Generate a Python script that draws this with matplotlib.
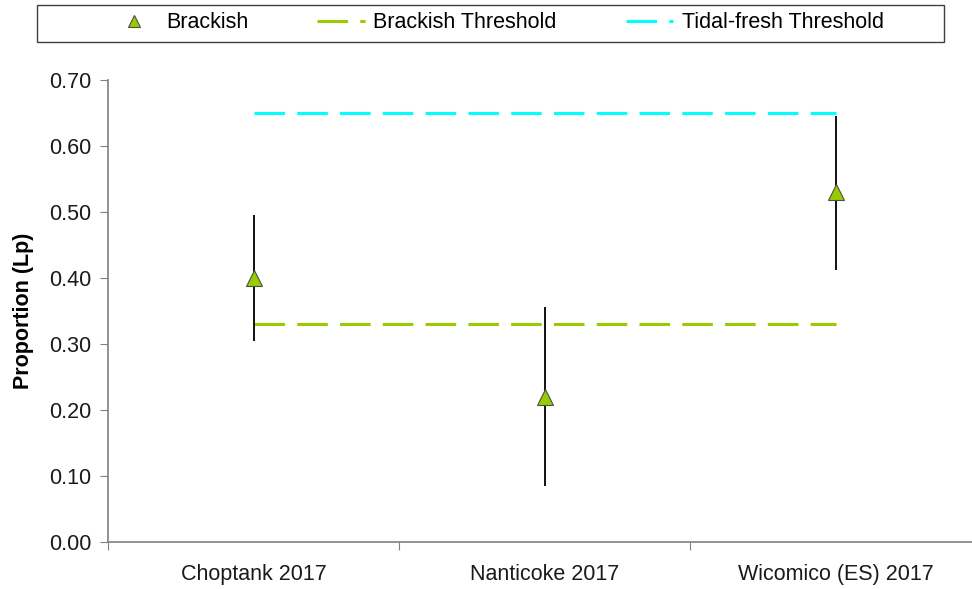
import numpy as np
import matplotlib
matplotlib.use("Agg")
import matplotlib.pyplot as plt
from matplotlib.lines import Line2D
from matplotlib.patches import Rectangle

plt.rcParams['font.family'] = ['Liberation Sans', 'DejaVu Sans']

# data
sites = ['Choptank 2017', 'Nanticoke 2017', 'Wicomico (ES) 2017']
brackish = [0.40, 0.22, 0.53]
err_low = [0.305, 0.085, 0.412]
err_high = [0.495, 0.356, 0.645]
brackish_thr = [0.33, 0.33, 0.33]
tidal_thr = [0.65, 0.65, 0.65]

green = '#99CC00'
cyan = '#00FFFF'
grey = '#808080'
fs = 15.5

fig = plt.figure(figsize=(9.72, 5.89), dpi=100)
ax = fig.add_axes([108/972, 1 - 542/589, 873/972, 462/589])

x = np.arange(len(sites))
vals = np.array(brackish)
yerr = [vals - np.array(err_low), np.array(err_high) - vals]

ax.plot(x, brackish_thr, color=green, lw=2.2, dashes=(10, 4), zorder=2)
ax.plot(x, tidal_thr, color=cyan, lw=2.2, dashes=(10, 4), zorder=2)
ax.errorbar(x, vals, yerr=yerr, fmt='none', ecolor='#111111', elinewidth=1.4, capsize=0, zorder=3)
ax.plot(x, vals, linestyle='none', marker='^', markersize=12, markerfacecolor=green,
        markeredgecolor='#4d4d4d', markeredgewidth=0.8, zorder=4)

ax.set_xlim(-0.5, 2.5)
ax.set_ylim(0, 0.70)
ax.set_yticks(np.arange(0, 0.71, 0.1))
ax.set_yticklabels([f'{v:.2f}' for v in np.arange(0, 0.71, 0.1)])
ax.set_xticks([-0.5, 0.5, 1.5, 2.5])
ax.set_xticklabels([])
ax.set_xticks(x, minor=True)
ax.set_xticklabels(sites, minor=True)
ax.tick_params(axis='x', which='minor', length=0, pad=16, labelsize=fs, labelcolor='#1a1a1a')
ax.tick_params(axis='x', which='major', length=6, color=grey, direction='out')
ax.tick_params(axis='y', length=6, color=grey, pad=6, labelsize=fs, labelcolor='#1a1a1a')

for s in ['top', 'right']:
    ax.spines[s].set_visible(False)
for s in ['left', 'bottom']:
    ax.spines[s].set_color(grey)
    ax.spines[s].set_linewidth(1.2)

ax.set_ylabel('Proportion (Lp)', fontsize=fs, fontweight='bold', labelpad=11)

# legend
handles = [
    Line2D([], [], linestyle='none', marker='^', markersize=9, markerfacecolor=green,
           markeredgecolor='#4d4d4d', markeredgewidth=0.8),
    Line2D([], [], color=green, lw=2.2, dashes=(10, 4)),
    Line2D([], [], color=cyan, lw=2.2, dashes=(10, 4)),
]
labels = ['Brackish', 'Brackish Threshold', 'Tidal-fresh Threshold']
fig.legend(handles, labels, loc='center', bbox_to_anchor=(497/972, 1 - 23/589), ncol=3,
           frameon=False, fontsize=fs, handlelength=2.2, handletextpad=0.4,
           columnspacing=3.2)
fig.patches.append(Rectangle((37/972, 1 - 42/589), (944-37)/972, 37/589,
                             transform=fig.transFigure, fill=False, edgecolor='#404040', lw=1.0))

fig.savefig('out.png', dpi=100)
